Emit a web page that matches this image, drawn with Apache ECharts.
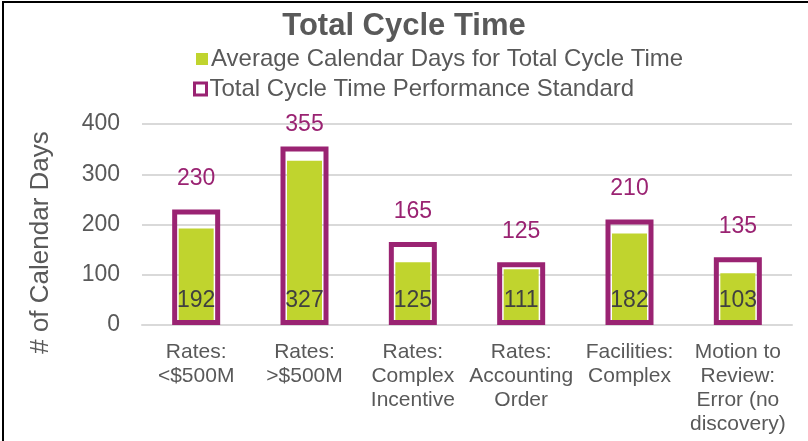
<!DOCTYPE html>
<html>
<head>
<meta charset="utf-8">
<script src="https://cdn.jsdelivr.net/npm/echarts@6/dist/echarts.min.js"></script>
<style>
  html, body { margin: 0; padding: 0; background: #fff; }
  #chart { width: 808px; height: 441px; }
</style>
</head>
<body>
<div id="chart"></div>
<script>
var categories = [
    'Rates:\n<$500M',
    'Rates:\n>$500M',
    'Rates:\nComplex\nIncentive',
    'Rates:\nAccounting\nOrder',
    'Facilities:\nComplex',
    'Motion to\nReview:\nError (no\ndiscovery)'
];
var avgDays = [192, 327, 125, 111, 182, 103];
var standardDays = [230, 355, 165, 125, 210, 135];
var yTicks = { min: 0, max: 400, interval: 100 };

var avgName = 'Average Calendar Days for Total Cycle Time';
var stdName = 'Total Cycle Time Performance Standard';

var green = '#C0D42E';
var purple = '#9A2372';
var gray = '#595959';
var font = 'Arial, "Liberation Sans", sans-serif';

var chart = echarts.init(document.getElementById('chart'), null, { renderer: 'canvas' });

// labels near the top of the plot get squeezed down, like in the original
var standardData = standardDays.map(function (v) {
    return v > 340 ? { value: v, label: { distance: 10 } } : v;
});

chart.setOption({
    animation: false,
    textStyle: { fontFamily: font },
    title: {
        text: 'Total Cycle Time',
        left: 'center',
        top: 11,
        padding: 0,
        textStyle: { fontSize: 31, fontWeight: 'bold', color: gray, fontFamily: font }
    },
    legend: [{
        left: 196,
        top: 47,
        padding: 0,
        itemWidth: 12,
        itemHeight: 12,
        itemGap: 4,
        data: [{ name: avgName, icon: 'rect' }],
        textStyle: { fontSize: 24, color: gray, padding: [0, 0, 0, -2] }
    }, {
        left: 193,
        top: 77,
        padding: 0,
        itemWidth: 12,
        itemHeight: 12,
        data: [{
            name: stdName,
            icon: 'rect',
            itemStyle: { color: '#fff', borderColor: purple, borderWidth: 3 }
        }],
        textStyle: { fontSize: 24, color: gray, padding: [0, 0, 0, -2] }
    }],
    grid: { left: 142, right: 16, top: 124, bottom: 116 },
    xAxis: [{
        type: 'category',
        data: categories,
        axisLine: { show: true, lineStyle: { color: '#d9d9d9', width: 2 } },
        axisTick: { show: false },
        axisLabel: { fontSize: 21, lineHeight: 24, color: gray, margin: 15, interval: 0 }
    }, {
        type: 'category',
        data: categories,
        show: false
    }],
    yAxis: {
        type: 'value',
        min: yTicks.min,
        max: yTicks.max,
        interval: yTicks.interval,
        name: '# of Calendar Days',
        nameLocation: 'middle',
        nameGap: 88,
        nameTextStyle: { fontSize: 26, color: gray, padding: [0, 36, 0, 0] },
        axisLine: { show: false },
        axisTick: { show: false },
        axisLabel: { fontSize: 23, color: gray, margin: 22 },
        splitLine: { lineStyle: { color: '#d9d9d9', width: 2 } }
    },
    series: [{
        name: stdName,
        type: 'bar',
        xAxisIndex: 0,
        data: standardData,
        barWidth: 48,
        itemStyle: { color: 'rgba(0,0,0,0)', borderColor: purple, borderWidth: 5 },
        label: { show: true, position: 'top', distance: 19, fontSize: 23, color: purple },
        z: 3
    }, {
        name: avgName,
        type: 'bar',
        xAxisIndex: 1,
        data: avgDays,
        barWidth: 35,
        itemStyle: { color: green },
        label: { show: true, position: 'insideBottom', distance: 13, fontSize: 23, color: '#404040' },
        z: 2
    }],
    graphic: [{
        type: 'rect',
        shape: { x: 3, y: 2, width: 820, height: 460 },
        style: { fill: 'none', stroke: '#000', lineWidth: 2 },
        silent: true
    }]
});
</script>
</body>
</html>
